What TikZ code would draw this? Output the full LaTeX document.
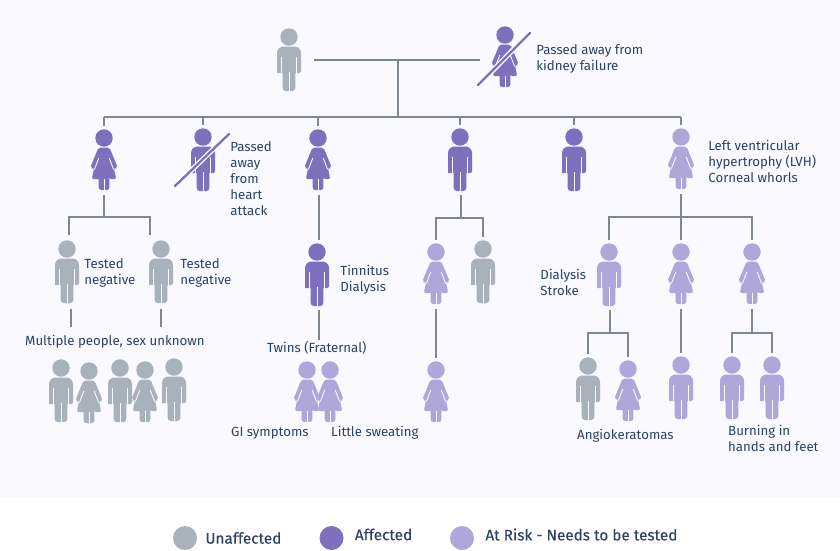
\documentclass[tikz,border=0pt]{standalone}
\usepackage{fontspec}
\setmainfont{Fira Sans}
\newfontfamily\keyfont[FakeBold=0.25]{Fira Sans}
\usetikzlibrary{positioning}

\definecolor{unaffected}{HTML}{A7B2BC}
\definecolor{affected}{HTML}{7E70BD}
\definecolor{atrisk}{HTML}{AFA7DA}
\definecolor{linegray}{HTML}{7D8796}
\definecolor{textnavy}{HTML}{2B4262}
\definecolor{panelbg}{HTML}{FAF9FF}

\begin{document}
\begin{tikzpicture}[
		x=1pt, y=-1pt,
		% Line and label styles
		link/.style={draw=linegray, line width=1.8pt},
		strike_halo/.style={draw=panelbg, line width=5pt},
		strike_line/.style={draw=affected, line width=2.3pt, line cap=round},
		note/.style={font=\fontsize{13.25}{16}\selectfont, text=textnavy, inner sep=0pt, align=left},
		key_dot/.style={circle, inner sep=0pt, minimum size=24pt},
		key_text/.style={font=\keyfont\fontsize{15.3}{18}\selectfont, text=textnavy, inner sep=0pt},
		slit/.style={draw=panelbg, line width=0.9pt},
		person_box/.style={inner sep=0pt, minimum width=24pt},
		% Figures
		pics/male/.style={code={
			\fill[#1] (0,0) circle (8.7pt);
			\fill[#1] (-12,36) [rounded corners=2pt] -- (-12,36) [rounded corners=6.5pt] -- (-12,9.5) -- (12,9.5) [rounded corners=2pt] -- (12,36) -- (7.5,36) [sharp corners] -- (6.3,36) [rounded corners=3pt] -- (6.3,54) -- (-6.3,54) [sharp corners] -- (-6.3,36) -- cycle;
			\draw[slit] (-7.8,20) -- (-7.8,37);
			\draw[slit] (7.8,20) -- (7.8,37);
			\draw[slit] (0,35) -- (0,55);
			\node[person_box, minimum height=70pt] (-box) at (0,23) {};
		}},
		pics/female/.style={code={
			\fill[#1] (0,0) circle (8.7pt);
			\fill[#1] [rounded corners=2pt] (-13.7,29.5) -- (-5.5,9.5) -- (5.5,9.5) -- (13.7,29.5) -- (10.8,31.2) -- (9.8,29.5) -- (12.2,41) -- (5.3,41) [sharp corners] -- (5.3,41) [rounded corners=2.5pt] -- (5.3,52) -- (-5.3,52) [sharp corners] -- (-5.3,41) [rounded corners=2pt] -- (-12.2,41) -- (-9.8,29.5) -- (-10.8,31.2) -- cycle;
			\draw[slit] (-5.2,20) -- (-9.6,31.5);
			\draw[slit] (5.2,20) -- (9.6,31.5);
			\draw[slit] (0,41) -- (0,53);
			\node[person_box, minimum height=69pt] (-box) at (0,22.5) {};
		}}
		]
		\useasboundingbox (0,0) rectangle (840,550);
		\fill[panelbg] (0,0) rectangle (840,497);
		
		% --- FIRST GENERATION ---
		\pic (father) at (289,37) {male=unaffected};
		\pic (mother) at (505,35) {female=affected};
		\draw[strike_halo] (477,87) -- (531,31);
		\draw[strike_line] (478,85) -- (530,33);
		\node[note, right=19pt of mother-box.east, yshift=-1pt] (mother_note) {Passed away from\\kidney failure};
		
		% --- SECOND GENERATION ---
		\pic (child_a) at (104,138) {female=affected};
		\pic (child_b) at (203,137) {male=affected};
		\pic (child_c) at (318,138) {female=affected};
		\pic (child_d) at (460,137) {male=affected};
		\pic (child_e) at (574,137) {male=affected};
		\pic (child_f) at (681,137) {female=atrisk};
		\draw[strike_halo] (174,187) -- (230,133);
		\draw[strike_line] (175,186) -- (229,134);
		\node[note, right=15pt of child_b-box.east, yshift=-19pt] (heart_note) {Passed\\away\\from\\heart\\attack};
		\node[note, right=15pt of child_f-box.east, yshift=-2pt] (lvh_note) {Left ventricular\\hypertrophy (LVH)\\Corneal whorls};
		
		% --- THIRD GENERATION ---
		\pic (gc_a) at (67,249) {male=unaffected};
		\pic (gc_b) at (161,249) {male=unaffected};
		\pic (gc_c) at (317,252) {male=affected};
		\pic (gc_d) at (436,252) {female=atrisk};
		\pic (gc_e) at (483,249) {male=unaffected};
		\pic (gc_f) at (609,252) {male=atrisk};
		\pic (gc_g) at (681,252) {female=atrisk};
		\pic (gc_h) at (752,252) {female=atrisk};
		\node[note, right=5pt of gc_a-box.east, yshift=-1pt] (neg_a_note) {Tested\\negative};
		\node[note, right=7pt of gc_b-box.east, yshift=-1pt] (neg_b_note) {Tested\\negative};
		\node[note, right=11pt of gc_c-box.east, yshift=-5pt] (tinnitus_note) {Tinnitus\\Dialysis};
		\node[note, left=10.5pt of gc_f-box.west, yshift=-7pt] (stroke_note) {Dialysis\\Stroke};
		
		% --- FOURTH GENERATION ---
		\pic (ggc_a) at (61,368) {male=unaffected};
		\pic (ggc_b) at (89,371) {female=unaffected};
		\pic (ggc_c) at (120,368) {male=unaffected};
		\pic (ggc_d) at (145,370) {female=unaffected};
		\pic (ggc_e) at (174,367) {male=unaffected};
		\pic (ggc_f) at (307,370) {female=atrisk};
		\pic (ggc_g) at (330,370) {female=atrisk};
		\pic (ggc_h) at (436,370) {female=atrisk};
		\pic (ggc_i) at (588,366) {male=unaffected};
		\pic (ggc_j) at (628,369) {female=atrisk};
		\pic (ggc_k) at (681,365) {male=atrisk};
		\pic (ggc_l) at (732,365) {male=atrisk};
		\pic (ggc_m) at (772,365) {male=atrisk};
		\node[note, anchor=west] (multi_note) at (25,342) {Multiple people, sex unknown};
		\node[note, anchor=west] (twins_note) at (267,348) {Twins (Fraternal)};
		\node[note, anchor=west] (gi_note) at (231,433) {GI symptoms};
		\node[note, anchor=west] (sweat_note) at (331,433) {Little sweating};
		\node[note, anchor=west] (angio_note) at (577,435.5) {Angiokeratomas};
		\node[note, anchor=west] (burn_note) at (728,438) {Burning in\\hands and feet};
		
		% --- CONNECTIONS ---
		% Couple and the bar over the children
		\coordinate (couple_l) at (314,60);
		\coordinate (couple_r) at (480,60);
		\coordinate (sib_bar) at (398,117);
		\draw[link] (couple_l) -- (couple_r);
		\draw[link] (couple_l -| sib_bar) -- (sib_bar);
		\draw[link] (child_a-box.north |- sib_bar) -- (child_f-box.north |- sib_bar);
		\draw[link] (child_a-box.north |- sib_bar) -- (child_a-box.north);
		\draw[link] (child_b-box.north |- sib_bar) -- (child_b-box.north);
		\draw[link] (child_c-box.north |- sib_bar) -- (child_c-box.north);
		\draw[link] (child_d-box.north |- sib_bar) -- (child_d-box.north);
		\draw[link] (child_e-box.north |- sib_bar) -- (child_e-box.north);
		\draw[link] (child_f-box.north |- sib_bar) -- (child_f-box.north);
		
		% Children of child_a
		\coordinate (bar_a) at (104,217);
		\coordinate (drop_a) at (69,217);
		\coordinate (drop_b) at (150,217);
		\coordinate (end_a) at (69,235);
		\coordinate (end_b) at (150,235);
		\draw[link] (child_a-box.south) -- (bar_a);
		\draw[link] (end_a) -- (drop_a) -- (drop_b) -- (end_b);
		\coordinate (multi_a) at (71,309);
		\coordinate (multi_a2) at (71,327);
		\coordinate (multi_b) at (161,309);
		\coordinate (multi_b2) at (161,327);
		\draw[link] (multi_a) -- (multi_a2);
		\draw[link] (multi_b) -- (multi_b2);
		
		% Line of child_c
		\coordinate (twins_top) at (319,340);
		\draw[link] (twins_top |- child_c-box.south) -- (twins_top |- gc_c-box.north);
		\draw[link] (twins_top |- gc_c-box.south) -- (twins_top);
		
		% Children of child_d
		\coordinate (bar_d) at (461,218);
		\draw[link] (bar_d |- child_d-box.south) -- (bar_d);
		\draw[link] (gc_d-box.north) |- (bar_d -| gc_e-box.north) -- (gc_e-box.north);
		\draw[link] (gc_d-box.south) -- (ggc_h-box.north);
		
		% Children of child_f
		\coordinate (bar_f) at (681,217);
		\draw[link] (child_f-box.south) -- (gc_g-box.north);
		\draw[link] (gc_f-box.north) |- (bar_f -| gc_h-box.north) -- (gc_h-box.north);
		\coordinate (bar_g) at (610,333);
		\draw[link] (bar_g |- gc_f-box.south) -- (bar_g);
		\draw[link] (ggc_i-box.north) |- (bar_g -| ggc_j-box.north) -- (ggc_j-box.north);
		\draw[link] (gc_g-box.south) -- (ggc_k-box.north);
		\coordinate (bar_h) at (752,333);
		\draw[link] (gc_h-box.south) -- (bar_h);
		\draw[link] (ggc_l-box.north) |- (bar_h -| ggc_m-box.north) -- (ggc_m-box.north);
		
		% --- LEGEND ---
		\node[key_dot, fill=unaffected] (key_un) at (185,538) {};
		\node[key_text, right=8pt of key_un] (key_un_text) {Unaffected};
		\node[key_dot, fill=affected] (key_af) at (331.5,538) {};
		\node[key_text, right=11pt of key_af, yshift=3.5pt] (key_af_text) {Affected};
		\node[key_dot, fill=atrisk] (key_ri) at (462,538) {};
		\node[key_text, right=11pt of key_ri, yshift=3.5pt] (key_ri_text) {At Risk - Needs to be tested};
		
	\end{tikzpicture}
\end{document}
